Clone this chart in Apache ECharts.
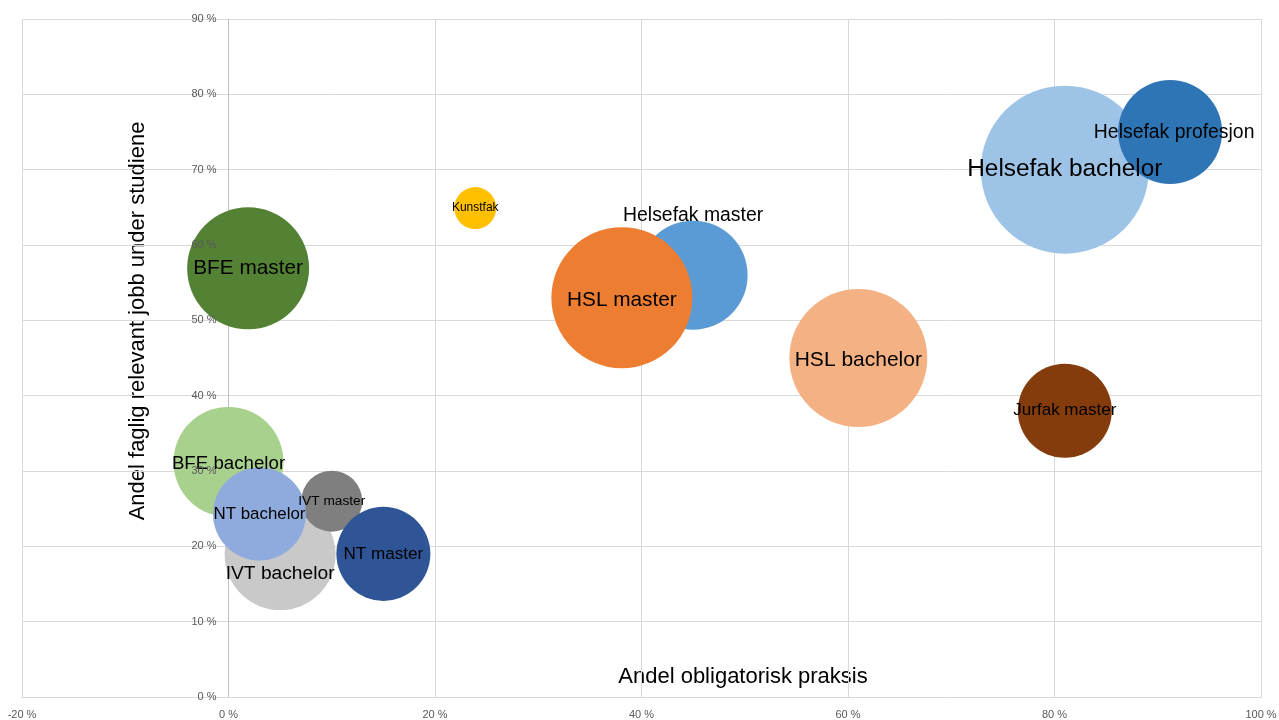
<!DOCTYPE html>
<html>
<head>
<meta charset="utf-8">
<script src="https://cdn.jsdelivr.net/npm/echarts@6/dist/echarts.min.js"></script>
<style>
html,body{margin:0;padding:0;background:#fff;}
#c{width:1279px;height:720px;}
</style>
</head>
<body>
<div id="c"></div>
<script>
// Data
const names = ['Helsefak bachelor','Helsefak profesjon','Helsefak master','HSL master','HSL bachelor','Jurfak master','Kunstfak','BFE master','BFE bachelor','IVT bachelor','IVT master','NT bachelor','NT master'];
const praksis = [81, 91.2, 45, 38.1, 61, 81, 23.9, 1.9, 0, 5, 10, 3, 15];          // Andel obligatorisk praksis (%)
const jobb    = [70, 75, 56, 53, 45, 38, 64.9, 56.9, 31.2, 18.9, 26, 24.3, 19];     // Andel faglig relevant jobb (%)
const storrelse = [706, 270, 297, 497, 476, 221, 44, 372, 303, 308, 93, 216, 221];   // bubble size
const xTicks = [-20, 0, 20, 40, 60, 80, 100];
const yTicks = [0, 10, 20, 30, 40, 50, 60, 70, 80, 90];

// Styles
const colors = ['#9dc3e6','#2e75b6','#5b9bd5','#ed7d31','#f4b183','#843c0c','#ffc000','#548235','#a9d18e','#c9c9c9','#7f7f7f','#8faadc','#2f5597'];
const labelSizes = [24.4, 19.4, 19.4, 20.8, 21, 17, 12, 20.8, 18.7, 19.2, 13.7, 16.9, 17.1];
const labelPos = {
  'Helsefak master': {position: 'top', distance: -1}
};
const labelShift = {
  'IVT bachelor': [0, 19],
  'Helsefak profesjon': [4, 1],
  'Helsefak master': [0, 4],
  'BFE bachelor': [0, 2],
  'HSL master': [0, 3],
  'HSL bachelor': [0, 2]
};
const FONT = '"Liberation Sans", Arial, sans-serif';

const data = names.map((n, i) => {
  const lp = labelPos[n] || {position: 'inside'};
  return {
    name: n,
    value: [praksis[i], jobb[i], storrelse[i]],
    itemStyle: {color: colors[i], opacity: 1},
    label: Object.assign({show: true, formatter: n, fontSize: labelSizes[i], color: '#000', fontFamily: FONT}, lp)
  };
});

const GRID_LEFT = 22, GRID_RIGHT = 18;
const plotW = 1279 - GRID_LEFT - GRID_RIGHT;
const zeroOffset = -plotW * (0 - xTicks[0]) / (xTicks[xTicks.length - 1] - xTicks[0]);
const yMin = yTicks[0], yMax = yTicks[yTicks.length - 1];

const chart = echarts.init(document.getElementById('c'));
chart.setOption({
  backgroundColor: '#fff',
  animation: false,
  grid: {left: GRID_LEFT, right: GRID_RIGHT, top: 19, bottom: 23, containLabel: false, outerBoundsMode: 'none'},
  xAxis: {
    type: 'value', min: xTicks[0], max: xTicks[xTicks.length - 1], interval: 20,
    axisLine: {show: true, onZero: false, lineStyle: {color: '#d9d9d9'}},
    axisTick: {show: false},
    axisLabel: {formatter: '{value} %', fontSize: 11, color: '#595959', margin: 12, fontFamily: FONT},
    splitLine: {show: true, lineStyle: {color: '#d9d9d9', width: 1}}
  },
  yAxis: [{
    type: 'value', min: yMin, max: yMax, interval: 10,
    position: 'left',
    offset: zeroOffset,
    axisLine: {show: true, onZero: false, lineStyle: {color: '#bfbfbf'}},
    axisTick: {show: false},
    axisLabel: {show: false},
    splitLine: {show: true, lineStyle: {color: '#d9d9d9', width: 1}}
  }, {
    type: 'value', min: yMin, max: yMax, interval: 10,
    position: 'left',
    offset: zeroOffset,
    z: 10,
    axisLine: {show: false, onZero: false},
    axisTick: {show: false},
    axisLabel: {formatter: '{value} %', fontSize: 11, color: '#595959', margin: 12, fontFamily: FONT},
    splitLine: {show: false}
  }],
  graphic: [
    {type: 'text', x: 743, y: 677, style: {text: 'Andel obligatorisk praksis', fill: '#000', font: '22px ' + FONT, textAlign: 'center', textVerticalAlign: 'middle'}},
    {type: 'text', x: 138, y: 321, rotation: Math.PI / 2, style: {text: 'Andel faglig relevant jobb under studiene', fill: '#000', font: '22px ' + FONT, textAlign: 'center', textVerticalAlign: 'middle'}}
  ],
  series: [{
    type: 'scatter',
    yAxisIndex: 0,
    data: data,
    symbolSize: v => Math.sqrt(v[2]) * 2 * Math.sqrt(10),
    clip: false,
    emphasis: {disabled: true},
    labelLayout: function (p) {
      const s = labelShift[names[p.dataIndex]] || [0, 0];
      return {dx: s[0], dy: s[1], hideOverlap: false};
    }
  }]
});
</script>
</body>
</html>
